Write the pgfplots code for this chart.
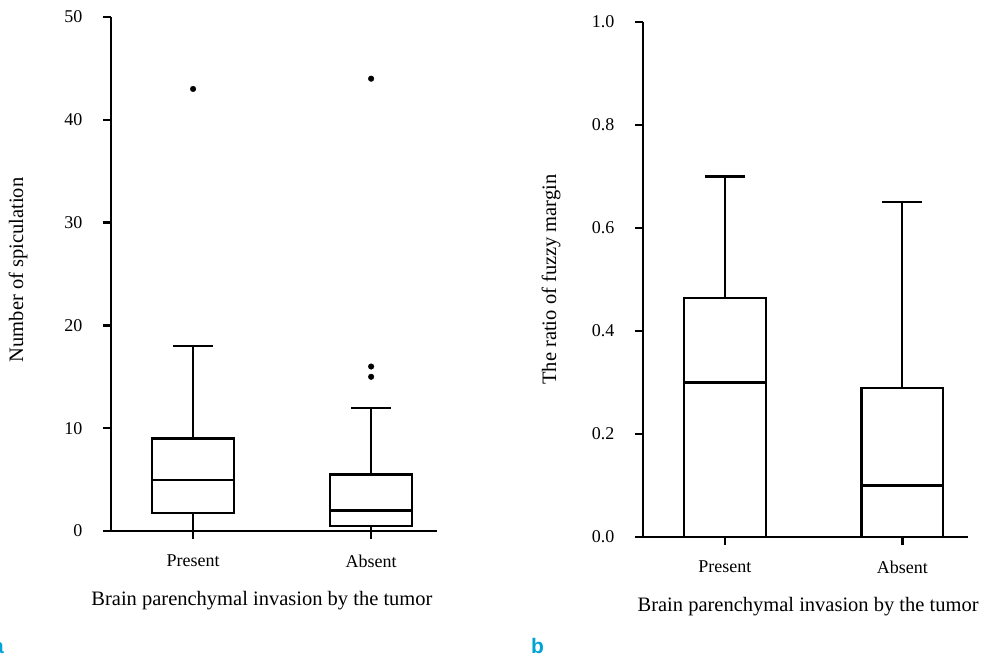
\documentclass[border=0pt]{standalone}
\usepackage{pgfplots}
\pgfplotsset{compat=1.18}
\usepgfplotslibrary{statistics}
\usepackage{fontspec}
\setmainfont{Liberation Serif}
\newfontfamily\panelfont{Liberation Sans}
\definecolor{panelcyan}{RGB}{0,163,214}
\begin{document}
\begin{tikzpicture}
\path[use as bounding box] (0pt,0pt) rectangle (993pt,659pt);
\pgfplotsset{
  myaxis/.style={
    scale only axis,
    anchor=south west,
    axis x line*=bottom,
    axis y line*=left,
    axis line style={line width=2.5pt, black},
    every tick/.style={line width=2.5pt, black},
    major tick length=8pt,
    tick align=outside,
    xtick={1,2}, xticklabels={Present,Absent},
    xmin=0.539, xmax=2.37,
    ymin=0,
    clip=false,
    ticklabel style={font=\fontsize{18}{21}\selectfont, black},
    xticklabel style={yshift=-12pt},
    yticklabel style={xshift=-17pt},
    xlabel style={font=\fontsize{20.5}{24}\selectfont, black},
    ylabel style={font=\fontsize{20.5}{24}\selectfont, black},
    /pgf/number format/assume math mode=true,
    boxplot/draw direction=y,
    boxplot/box extend=0.46,
    boxplot/whisker extend=0.225,
    boxplot/every box/.style={line width=2.2pt, draw=black},
    boxplot/every whisker/.style={line width=2.2pt, black},
    boxplot/every median/.style={line width=2.2pt, black},
    boxplot/draw/lower whisker/.code={%
      \draw[/pgfplots/boxplot/every whisker/.try]
        (boxplot box cs:\pgfplotsboxplotvalue{lower quartile},0.5) --
        (boxplot box cs:\pgfplotsboxplotvalue{lower whisker},0.5);
      \draw[/pgfplots/boxplot/every whisker/.try]
        (boxplot whisker cs:\pgfplotsboxplotvalue{lower whisker},0) --
        (boxplot whisker cs:\pgfplotsboxplotvalue{lower whisker},1);
    },
    boxplot/draw/upper whisker/.code={%
      \draw[/pgfplots/boxplot/every whisker/.try]
        (boxplot box cs:\pgfplotsboxplotvalue{upper quartile},0.5) --
        (boxplot box cs:\pgfplotsboxplotvalue{upper whisker},0.5);
      \draw[/pgfplots/boxplot/every whisker/.try]
        (boxplot whisker cs:\pgfplotsboxplotvalue{upper whisker},0) --
        (boxplot whisker cs:\pgfplotsboxplotvalue{upper whisker},1);
    },
  }
}
% Panel a
\begin{axis}[myaxis,
  at={(111pt,128pt)}, width=326pt, height=514pt,
  ymax=50, ytick={0,10,20,30,40,50},
  ylabel={Number of spiculation},
  ylabel style={at={(axis description cs:-0.2853,0.508)}, anchor=center},
  xlabel={Brain parenchymal invasion by the tumor},
  xlabel style={at={(axis description cs:0.463,-0.136)}, anchor=center},
]
\addplot+[boxplot prepared={draw position=1, lower whisker=0, lower quartile=1.75,
  median=5, upper quartile=9, upper whisker=18}, black, solid,
  mark=*, mark size=2.8pt, mark options={fill=black}]
  table[row sep=\\, y index=0] {43\\};
\addplot+[boxplot prepared={draw position=2, lower whisker=0, lower quartile=0.5,
  median=2, upper quartile=5.5, upper whisker=12}, black, solid,
  mark=*, mark size=2.8pt, mark options={fill=black}]
  table[row sep=\\, y index=0] {44\\ 16\\ 15\\};
\end{axis}
% Panel b
\begin{axis}[myaxis,
  at={(643pt,122pt)}, width=325pt, height=515pt,
  ymax=1, ytick={0,0.2,0.4,0.6,0.8,1.0},
  yticklabel style={/pgf/number format/.cd, fixed, fixed zerofill, precision=1},
  ylabel={The ratio of fuzzy margin},
  ylabel style={at={(axis description cs:-0.283,0.5)}, anchor=center},
  xlabel={Brain parenchymal invasion by the tumor},
  xlabel style={at={(axis description cs:0.508,-0.136)}, anchor=center},
]
\addplot+[boxplot prepared={draw position=1, lower whisker=0, lower quartile=0,
  median=0.30, upper quartile=0.464, upper whisker=0.70}, black, solid]
  coordinates {};
\addplot+[boxplot prepared={draw position=2, lower whisker=0, lower quartile=0,
  median=0.10, upper quartile=0.29, upper whisker=0.65}, black, solid]
  coordinates {};
\end{axis}
\node[anchor=base west, inner sep=0, text=panelcyan, font=\panelfont\bfseries\fontsize{21}{24}\selectfont] at (-8pt,6pt) {a};
\node[anchor=base west, inner sep=0, text=panelcyan, font=\panelfont\bfseries\fontsize{21}{24}\selectfont] at (531pt,6pt) {b};
\end{tikzpicture}
\end{document}
